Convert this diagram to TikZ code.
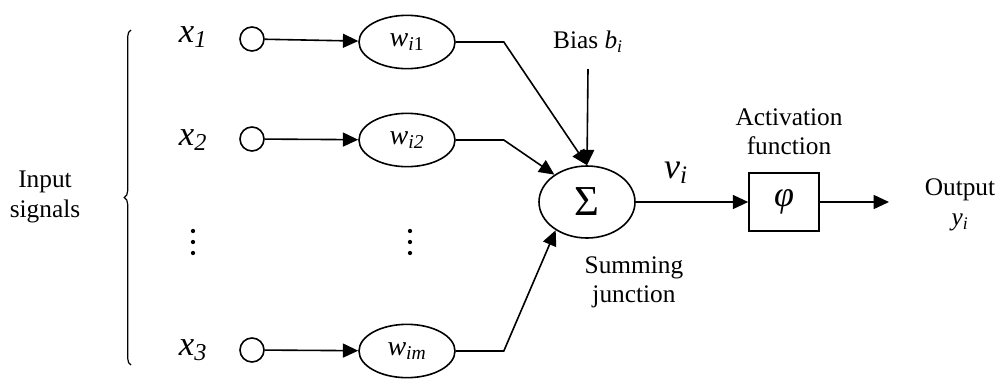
\documentclass[tikz,border=0pt]{standalone}
\usepackage{fontspec}
\setmainfont{Liberation Serif}
\usetikzlibrary{arrows.meta,shapes.geometric,decorations.pathreplacing}

\begin{document}
\begin{tikzpicture}[x=0.75pt, y=-0.75pt, line width=1.2pt,
  arr/.style={-{Triangle[length=11.5pt,width=10.5pt]}},
  inp/.style={draw, circle, minimum size=18pt, inner sep=0pt},
  wgt/.style={draw, ellipse, minimum width=72pt, minimum height=40pt, inner sep=0pt, font=\fontsize{21}{24}\selectfont},
  lbl/.style={font=\fontsize{19}{22}\selectfont, align=center},
  sig/.style={font=\fontsize{26}{28}\selectfont\itshape}]

\useasboundingbox (0,0) rectangle (1007,383);

% Input signals and brace
\node[lbl] (insig) at (45,197) {Input\\signals};
\coordinate (brb) at (131,365);
\coordinate (brt) at (131,30);
\draw[decorate, decoration={brace, amplitude=5pt}, line width=0.9pt] (brb) -- (brt);

% Inputs
\node[sig] (x1) at (193,37) {x\textsubscript{1}};
\node[sig] (x2) at (193,140) {x\textsubscript{2}};
\node[sig] (x3) at (193,350) {x\textsubscript{3}};

\node[inp] (c1) at (252,39) {};
\node[inp] (c2) at (252,139) {};
\node[inp] (c3) at (252,350) {};

% Weights
\node[wgt] (w1) at (407,42) {\textit{w}\textsubscript{\textit{i}1}};
\node[wgt] (w2) at (407,140) {\textit{w}\textsubscript{\textit{i2}}};
\node[wgt] (w3) at (407,351) {\textit{w}\textsubscript{\textit{im}}};

% Dots between rows
\foreach \k in {0,1,2} {
  \fill (193,231+11*\k) circle (1.6pt);
  \fill (410,231+11*\k) circle (1.6pt);
}

% Summing junction
\node[draw, ellipse, minimum width=72pt, minimum height=54pt, inner sep=0pt, font=\fontsize{32}{34}\selectfont] (sum) at (587,202) {Σ};
\node[lbl] (sumlbl) at (634,282) {Summing\\junction};
\node[lbl] (bias) at (588,42) {Bias \textit{b}\textsubscript{\textit{i}}};
\coordinate (biasin) at (588,69);

% Activation
\node[font=\fontsize{27}{30}\selectfont\itshape] (v) at (676,173) {v\textsubscript{i}};
\node[draw, rectangle, minimum width=52.5pt, minimum height=43.5pt, inner sep=0pt, font=\fontsize{27}{28}\selectfont\itshape] (phi) at (784,202) {φ};
\node[lbl] (act) at (789,132) {Activation\\function};
\node[lbl] (outlbl) at (960,205) {Output\\\textit{y}\textsubscript{\textit{i}}};
\coordinate (out) at (889,202);

% Arrows
\draw[arr] (c1) -- (w1);
\draw[arr] (c2) -- (w2);
\draw[arr] (c3) -- (w3);
\draw[arr] (w1.east) -- ++(48,0) -- (sum.north);
\draw[arr] (w2.east) -- ++(48,0) -- (sum.140);
\draw[arr] (w3.east) -- ++(48,0) -- (sum.222);
\draw[arr] (biasin) -- (sum.north);
\draw[arr] (sum) -- (phi);
\draw[arr] (phi) -- (out);

\end{tikzpicture}
\end{document}
